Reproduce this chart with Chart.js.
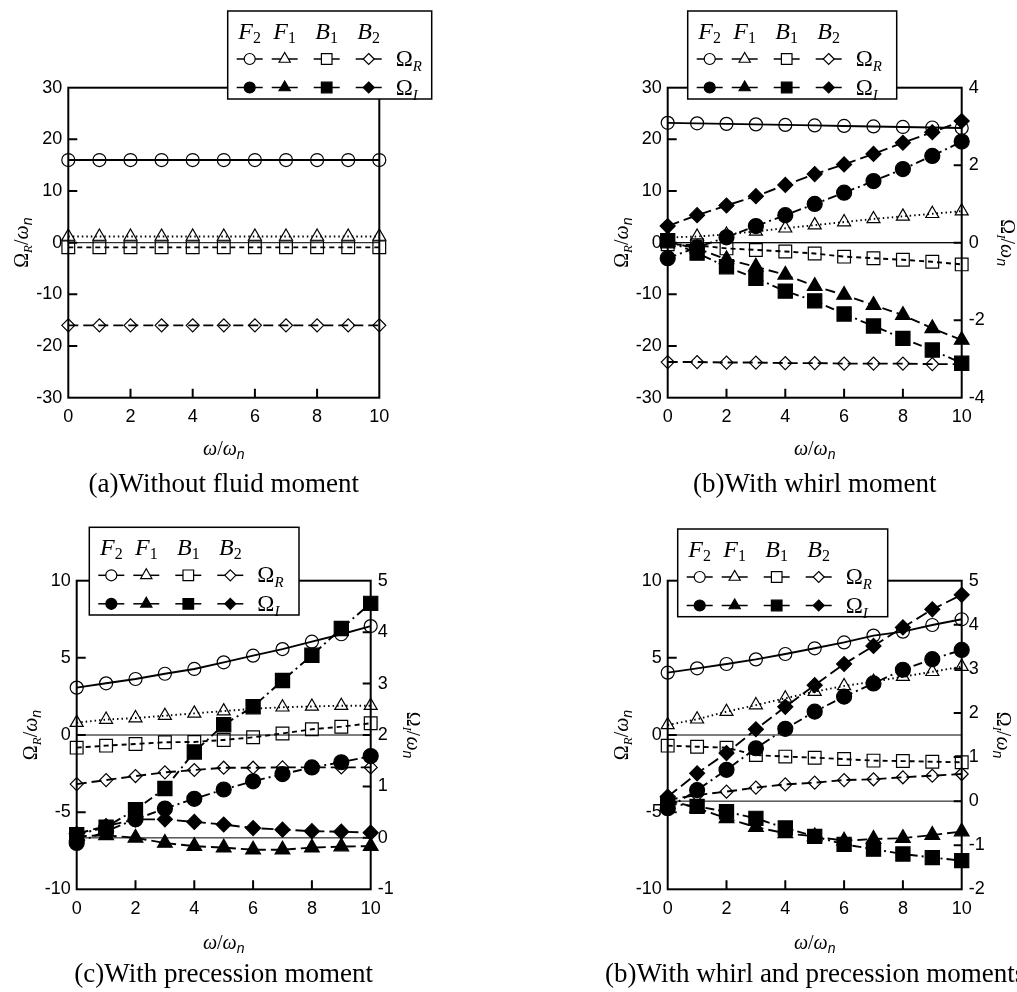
<!DOCTYPE html>
<html>
<head>
<meta charset="utf-8">
<script src="https://cdn.jsdelivr.net/npm/chart.js"></script>
<style>
  body { margin: 0; background: #fff; width: 1017px; height: 992px; position: relative; overflow: hidden; }
  canvas { position: absolute; }
</style>
</head>
<body>
<canvas id="pa"></canvas>
<canvas id="pb"></canvas>
<canvas id="pc"></canvas>
<canvas id="pd"></canvas>
<script>
// x values (omega / omega_n)
const omegaRatio = [0, 1, 2, 3, 4, 5, 6, 7, 8, 9, 10];
const bottomTicks = [2, 4, 6, 8];
const modeLetters = ['F', 'F', 'B', 'B'];
const modeDigits = ['2', '1', '1', '2'];

// (a) without fluid moment - real part only
const aF2R = [16, 16, 16, 16, 16, 16, 16, 16, 16, 16, 16];
const aF1R = [1.2, 1.2, 1.2, 1.2, 1.2, 1.2, 1.2, 1.2, 1.2, 1.2, 1.2];
const aB1R = [-0.9, -0.9, -0.9, -0.9, -0.9, -0.9, -0.9, -0.9, -0.9, -0.9, -0.9];
const aB2R = [-16, -16, -16, -16, -16, -16, -16, -16, -16, -16, -16];

// (b) with whirl moment
const bF2R = [23.2, 23.1, 23.0, 22.9, 22.8, 22.7, 22.6, 22.5, 22.4, 22.3, 22.2];
const bF1R = [1.0, 1.2, 1.6, 2.2, 2.8, 3.4, 4.0, 4.6, 5.1, 5.6, 6.1];
const bB1R = [-0.3, -0.5, -1.1, -1.4, -1.7, -2.1, -2.7, -3.0, -3.3, -3.7, -4.2];
const bB2R = [-23.1, -23.1, -23.2, -23.2, -23.3, -23.3, -23.4, -23.4, -23.4, -23.5, -23.5];
const bF2I = [-0.40, -0.12, 0.14, 0.43, 0.71, 1.00, 1.29, 1.59, 1.90, 2.24, 2.61];
const bF1I = [0.02, -0.15, -0.43, -0.62, -0.83, -1.12, -1.35, -1.61, -1.87, -2.21, -2.51];
const bB1I = [0.05, -0.27, -0.62, -0.92, -1.25, -1.50, -1.84, -2.15, -2.47, -2.77, -3.11];
const bB2I = [0.43, 0.71, 0.96, 1.20, 1.49, 1.77, 2.02, 2.29, 2.58, 2.85, 3.14];

// (c) with precession moment
const cF2R = [3.07, 3.35, 3.63, 3.97, 4.28, 4.71, 5.14, 5.57, 6.05, 6.53, 7.06];
const cF1R = [0.8, 1.0, 1.1, 1.25, 1.4, 1.55, 1.7, 1.8, 1.85, 1.9, 1.9];
const cB1R = [-0.82, -0.69, -0.58, -0.47, -0.45, -0.32, -0.15, 0.1, 0.37, 0.54, 0.76];
const cB2R = [-3.18, -2.92, -2.66, -2.42, -2.27, -2.12, -2.12, -2.1, -2.1, -2.1, -2.1];
const cF2I = [-0.1, 0.13, 0.36, 0.57, 0.76, 0.94, 1.1, 1.24, 1.37, 1.47, 1.59];
const cF1I = [0.03, 0.05, 0.0, -0.1, -0.16, -0.19, -0.23, -0.23, -0.19, -0.17, -0.16];
const cB1I = [0.06, 0.21, 0.55, 0.96, 1.67, 2.2, 2.55, 3.06, 3.55, 4.07, 4.56];
const cB2I = [0.08, 0.23, 0.36, 0.36, 0.31, 0.26, 0.19, 0.16, 0.13, 0.12, 0.1];

// (d) with whirl and precession moments
const dF2R = [4.04, 4.32, 4.6, 4.9, 5.25, 5.62, 6.0, 6.44, 6.7, 7.13, 7.5];
const dF1R = [0.65, 1.02, 1.51, 1.94, 2.38, 2.81, 3.18, 3.46, 3.78, 4.1, 4.43];
const dB1R = [-0.69, -0.76, -0.82, -1.3, -1.4, -1.47, -1.56, -1.66, -1.69, -1.73, -1.77];
const dB2R = [-4.2, -3.89, -3.67, -3.41, -3.2, -3.09, -2.92, -2.87, -2.74, -2.64, -2.53];
const dF2I = [-0.16, 0.25, 0.71, 1.2, 1.64, 2.03, 2.37, 2.67, 2.98, 3.22, 3.43];
const dF1I = [0.03, -0.16, -0.39, -0.59, -0.73, -0.8, -0.9, -0.86, -0.84, -0.77, -0.69];
const dB1I = [-0.05, -0.12, -0.24, -0.39, -0.61, -0.8, -0.98, -1.09, -1.2, -1.28, -1.35];
const dB2I = [0.1, 0.63, 1.09, 1.63, 2.14, 2.63, 3.11, 3.52, 3.94, 4.35, 4.68];

const captions = ['(a)Without fluid moment', '(b)With whirl moment',
                  '(c)With precession moment', '(b)With whirl and precession moments'];

// marker / line styles, order F2 F1 B1 B2
const realStyle = [
  { shape: 'circle', r: 6.5, dash: [] },
  { shape: 'triangle', r: 7.5, dash: [1.5, 3] },
  { shape: 'rect', r: 9, dash: [5, 4] },
  { shape: 'rectRot', r: 6.5, dash: [10, 5] }
];
const imagStyle = [
  { shape: 'circle', r: 7.5, dash: [9, 4, 2, 4] },
  { shape: 'triangle', r: 8.5, dash: [10, 5] },
  { shape: 'rect', r: 10, dash: [9, 4, 2, 4] },
  { shape: 'rectRot', r: 7.5, dash: [12, 5] }
];

const SERIF = '"Liberation Serif", "Times New Roman", serif';
const SANS = '"Liberation Sans", Arial, sans-serif';
Chart.defaults.font.family = SANS;
Chart.defaults.color = '#000';

function series(vals, st, filled, axis) {
  return {
    data: omegaRatio.map((x, i) => ({ x: x, y: vals[i] })),
    yAxisID: axis,
    showLine: true,
    tension: 0,
    borderColor: '#000',
    borderWidth: 1.9,
    borderDash: st.dash,
    pointStyle: st.shape,
    pointRadius: st.r,
    pointBorderWidth: 1.2,
    pointBorderColor: '#000',
    pointBackgroundColor: filled ? '#000' : 'rgba(0,0,0,0)',
    clip: false
  };
}

// draw text made of pieces (letters + subscripts)
function richText(ctx, parts, x, y, rot, align) {
  ctx.save();
  ctx.translate(x, y);
  ctx.rotate(rot);
  let total = 0;
  parts.forEach(q => { ctx.font = q.font; q.w = ctx.measureText(q.t).width; total += q.w; });
  let cx = align === 'left' ? 0 : -total / 2;
  ctx.textAlign = 'left';
  ctx.textBaseline = 'alphabetic';
  ctx.fillStyle = '#000';
  parts.forEach(q => { ctx.font = q.font; ctx.fillText(q.t, cx, q.dy || 0); cx += q.w; });
  ctx.restore();
}

function marker(ctx, shape, x, y, r, filled) {
  ctx.beginPath();
  if (shape === 'circle') {
    ctx.arc(x, y, r, 0, Math.PI * 2);
  } else if (shape === 'triangle') {
    ctx.moveTo(x, y - r);
    ctx.lineTo(x + r * 0.866, y + r * 0.5);
    ctx.lineTo(x - r * 0.866, y + r * 0.5);
    ctx.closePath();
  } else if (shape === 'rect') {
    ctx.rect(x - r * 0.707, y - r * 0.707, r * 1.414, r * 1.414);
  } else {
    ctx.moveTo(x, y - r); ctx.lineTo(x + r, y); ctx.lineTo(x, y + r); ctx.lineTo(x - r, y);
    ctx.closePath();
  }
  ctx.fillStyle = filled ? '#000' : '#fff';
  ctx.fill();
  ctx.stroke();
}

function omegaTitle(sub, big) {
  return [
    { t: 'Ω', font: big + 'px ' + SERIF },
    { t: sub, font: 'italic 13px ' + SERIF, dy: 4 },
    { t: '/', font: big + 'px ' + SERIF },
    { t: 'ω', font: 'italic ' + big + 'px ' + SERIF },
    { t: 'n', font: 'italic 14px ' + SANS, dy: 4 }
  ];
}

function makePanel(id, p) {
  const canvas = document.getElementById(id);
  canvas.width = p.w; canvas.height = p.h;
  canvas.style.left = p.left + 'px'; canvas.style.top = p.top + 'px';
  canvas.style.width = p.w + 'px'; canvas.style.height = p.h + 'px';
  const a0 = p.area;

  const datasets = [];
  p.real.forEach((vals, k) => datasets.push(series(vals, realStyle[k], false, 'y')));
  if (p.imag) p.imag.forEach((vals, k) => datasets.push(series(vals, imagStyle[k], true, 'y2')));

  const tickFont = { size: 18, family: SANS };

  const decor = {
    id: 'decor',
    beforeDatasetsDraw(chart) {
      const { ctx, chartArea: a, scales } = chart;
      ctx.save();
      ctx.strokeStyle = '#000';
      ctx.lineWidth = 1;
      const zeros = [scales.y.getPixelForValue(0)];
      if (p.y2) zeros.push(scales.y2.getPixelForValue(0));
      zeros.forEach(y => {
        ctx.beginPath(); ctx.moveTo(a.left, y); ctx.lineTo(a.right, y); ctx.stroke();
      });
      ctx.restore();
    },
    afterDatasetsDraw(chart) {
      const { ctx, chartArea: a, scales } = chart;
      ctx.save();
      ctx.strokeStyle = '#000';
      ctx.setLineDash([]);
      // frame
      ctx.lineWidth = 2;
      ctx.strokeRect(a.left, a.top, a.right - a.left, a.bottom - a.top);
      // inward ticks
      ctx.beginPath();
      for (let v = p.y[0] + p.y[2]; v < p.y[1]; v += p.y[2]) {
        const y = scales.y.getPixelForValue(v);
        ctx.moveTo(a.left, y); ctx.lineTo(a.left + 9, y);
      }
      if (p.y2) {
        for (let v = p.y2[0] + p.y2[2]; v < p.y2[1]; v += p.y2[2]) {
          const y = scales.y2.getPixelForValue(v);
          ctx.moveTo(a.right, y); ctx.lineTo(a.right - 8, y);
        }
      }
      bottomTicks.forEach(v => {
        const x = scales.x.getPixelForValue(v);
        ctx.moveTo(x, a.bottom); ctx.lineTo(x, a.bottom - 9);
      });
      ctx.stroke();

      // legend box
      const L = p.legend;
      ctx.fillStyle = '#fff';
      ctx.fillRect(L.x, L.y, L.w, L.h);
      ctx.lineWidth = 1.5;
      ctx.strokeRect(L.x, L.y, L.w, L.h);
      const cols = [22, 57, 99, 141];
      const rows = [L.y + 48, L.y + 76.5];
      cols.forEach((c, k) => {
        const cx = L.x + c;
        richText(ctx, [
          { t: modeLetters[k], font: 'italic 24px ' + SERIF },
          { t: modeDigits[k], font: '16px ' + SERIF, dy: 4 }
        ], cx, L.y + 28, 0, 'center');
        rows.forEach((ry, r) => {
          ctx.lineWidth = 1.5;
          ctx.beginPath(); ctx.moveTo(cx - 13, ry); ctx.lineTo(cx + 13, ry); ctx.stroke();
          ctx.lineWidth = 1.2;
          const st = r === 0 ? realStyle[k] : imagStyle[k];
          const rr = { circle: 5.5, triangle: 6.5, rect: 7.5, rectRot: 5.5 }[st.shape];
          marker(ctx, st.shape, cx, ry, rr, r === 1);
        });
      });
      richText(ctx, [{ t: 'Ω', font: '23px ' + SERIF }, { t: 'R', font: 'italic 15px ' + SERIF, dy: 5 }],
        L.x + 168, rows[0] + 7, 0, 'left');
      richText(ctx, [{ t: 'Ω', font: '23px ' + SERIF }, { t: 'I', font: 'italic 15px ' + SERIF, dy: 5 }],
        L.x + 168, rows[1] + 7, 0, 'left');

      // axis titles
      const cy = (a.top + a.bottom) / 2;
      const cxp = (a.left + a.right) / 2;
      richText(ctx, omegaTitle('R', 20), a.left - 47 + 7, cy, -Math.PI / 2, 'center');
      if (p.y2) richText(ctx, omegaTitle('I', 20), a.right + p.rightTitle - 7, cy, Math.PI / 2, 'center');
      richText(ctx, [
        { t: 'ω', font: 'italic 20px ' + SERIF },
        { t: '/', font: '20px ' + SERIF },
        { t: 'ω', font: 'italic 20px ' + SERIF },
        { t: 'n', font: 'italic 14px ' + SANS, dy: 4 }
      ], cxp, p.xTitleY, 0, 'center');

      // caption
      richText(ctx, [{ t: p.caption, font: '27px ' + SERIF }],
        p.capX !== undefined ? p.capX : cxp, p.capY, 0, p.capX !== undefined ? 'left' : 'center');
      ctx.restore();
    }
  };

  new Chart(canvas, {
    type: 'scatter',
    data: { datasets: datasets },
    options: {
      responsive: false,
      animation: false,
      events: [],
      layout: { padding: { top: a0.t, left: 0, bottom: 0, right: 0 } },
      plugins: { legend: { display: false }, tooltip: { enabled: false } },
      scales: {
        x: {
          type: 'linear', min: 0, max: 10,
          ticks: { stepSize: 2, padding: 9, font: tickFont, color: '#000' },
          grid: { display: false, drawTicks: false },
          border: { display: false },
          afterFit: s => { s.height = p.h - a0.b; }
        },
        y: {
          type: 'linear', position: 'left', min: p.y[0], max: p.y[1],
          ticks: { stepSize: p.y[2], padding: 6, font: tickFont, color: '#000' },
          grid: { display: false, drawTicks: false },
          border: { display: false },
          afterFit: s => { s.width = a0.l; }
        },
        y2: {
          type: 'linear', position: 'right',
          min: p.y2 ? p.y2[0] : 0, max: p.y2 ? p.y2[1] : 1,
          ticks: { display: !!p.y2, stepSize: p.y2 ? p.y2[2] : 1, padding: 7, font: tickFont, color: '#000' },
          grid: { display: false, drawTicks: false },
          border: { display: false },
          afterFit: s => { s.width = p.w - a0.r; }
        }
      }
    },
    plugins: [decor]
  });
}

makePanel('pa', {
  left: 0, top: 0, w: 500, h: 500,
  area: { l: 68.3, t: 87.7, r: 379.3, b: 397.7 },
  y: [-30, 30, 10], y2: null,
  real: [aF2R, aF1R, aB1R, aB2R], imag: null,
  legend: { x: 227.7, y: 11, w: 204, h: 88 },
  xTitleY: 455, caption: captions[0], capY: 492
});
makePanel('pb', {
  left: 500, top: 0, w: 517, h: 500,
  area: { l: 167.7, t: 87.7, r: 461.7, b: 397.7 },
  y: [-30, 30, 10], y2: [-4, 4, 2], rightTitle: 46,
  real: [bF2R, bF1R, bB1R, bB2R], imag: [bF2I, bF1I, bB1I, bB2I],
  legend: { x: 187.7, y: 11, w: 209, h: 88 },
  xTitleY: 455, caption: captions[1], capY: 492
});
makePanel('pc', {
  left: 0, top: 490, w: 420, h: 502,
  area: { l: 76.7, t: 90.7, r: 370.7, b: 399.3 },
  y: [-10, 10, 5], y2: [-1, 5, 1], rightTitle: 43,
  real: [cF2R, cF1R, cB1R, cB2R], imag: [cF2I, cF1I, cB1I, cB2I],
  legend: { x: 89.3, y: 37.3, w: 209.7, h: 87.7 },
  xTitleY: 459, caption: captions[2], capY: 492
});
makePanel('pd', {
  left: 500, top: 490, w: 517, h: 502,
  area: { l: 167.7, t: 90.7, r: 461.7, b: 399.3 },
  y: [-10, 10, 5], y2: [-2, 5, 1], rightTitle: 42,
  real: [dF2R, dF1R, dB1R, dB2R], imag: [dF2I, dF1I, dB1I, dB2I],
  legend: { x: 177.7, y: 39, w: 210, h: 87.7 },
  xTitleY: 459, caption: captions[3], capY: 492, capX: 105
});
</script>
</body>
</html>
